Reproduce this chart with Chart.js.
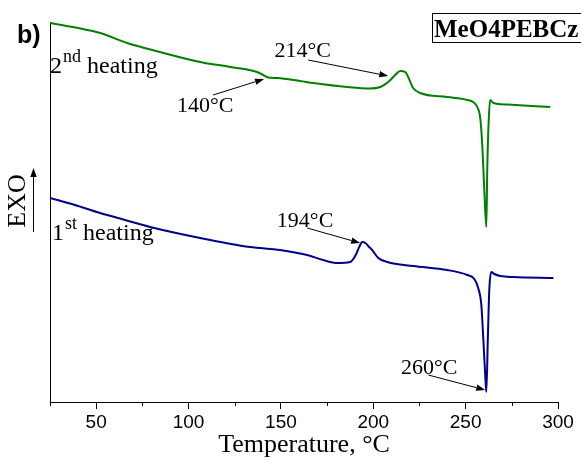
<!DOCTYPE html>
<html><head><meta charset="utf-8">
<script src="https://cdn.jsdelivr.net/npm/chart.js@4/dist/chart.umd.min.js"></script>
<style>html,body{margin:0;padding:0;background:#fff;}#wrap{width:581px;height:461px;}</style>
</head><body><div id="wrap"><canvas id="c" width="581" height="461"></canvas></div>
<script>
// 2nd heating (green): temperature (°C) and heat flow (arb. units, EXO up)
const temp2 = [25.0, 52.1, 66.7, 84.6, 106.3, 122.5, 137.1, 140.4, 143.1, 148.0, 160.4, 167.5, 185.9, 198.3, 203.8, 208.1, 211.9, 214.6, 217.3, 218.9, 221.6, 225.4, 240.0, 250.9, 254.1, 256.3, 257.9, 259.0, 260.1, 261.2, 261.7, 262.5, 263.3, 265.0, 272.6, 295.8];
const heat2 = [37.9, 36.9, 35.9, 35.0, 34.0, 33.5, 33.0, 32.7, 32.45, 32.4, 32.1, 31.9, 31.5, 31.35, 31.5, 32.0, 32.7, 33.1, 33.0, 32.5, 31.4, 30.9, 30.5, 30.2, 30.0, 29.5, 28.4, 25.7, 21.2, 17.5, 23.2, 28.2, 30.2, 29.9, 29.75, 29.5];
// 1st heating (navy)
const temp1 = [25.0, 38.5, 52.1, 65.6, 79.2, 106.3, 133.3, 149.6, 164.2, 172.9, 180.5, 187.5, 190.2, 192.4, 194.0, 195.7, 197.8, 199.4, 202.7, 207.6, 221.6, 240.0, 250.9, 254.7, 256.8, 258.5, 259.6, 260.6, 261.2, 262.0, 262.8, 263.9, 265.5, 268.8, 275.8, 297.5];
const heat1 = [20.4, 19.7, 18.9, 18.2, 17.5, 16.4, 15.5, 15.2, 14.7, 14.2, 13.9, 14.0, 14.6, 15.5, 16.0, 15.9, 15.5, 15.2, 14.4, 14.0, 13.6, 13.2, 12.7, 12.3, 11.4, 9.7, 6.2, 2.7, 1.0, 6.2, 11.2, 13.0, 12.8, 12.6, 12.5, 12.4];
const xMajorTicks = [50, 100, 150, 200, 250, 300];
const xMinorTicks = [25, 75, 125, 175, 225, 275];
const seriesNames = ['2nd heating', '1st heating'];

const SERIF = "'Liberation Serif','Times New Roman',serif";
const SANS = "'Liberation Sans',Arial,sans-serif";

function pts(xs, ys){ return xs.map((x,i)=>({x:x, y:ys[i]})); }

// annotations: text anchors and arrows in data coordinates
const notes = [
  {text:'140°C', at:[109.0, 29.6], tail:[113.3, 30.7], tip:[140.9, 32.3]},
  {text:'214°C', at:[161.8, 35.1], tail:[164.8, 34.2], tip:[208.1, 32.6]},
  {text:'194°C', at:[163.1, 18.1], tail:[164.2, 17.4], tip:[192.9, 15.9]},
  {text:'260°C', at:[230.3, 3.4], tail:[229.8, 2.7], tip:[260.6, 1.2]}
];
const seriesLabels = [
  {main:'2', sup:'nd', rest:' heating', at:[25.0, 32.9]},
  {main:'1', sup:'st', rest:' heating', at:[26.1, 16.2]}
];

function arrow(ctx, x1, y1, x2, y2){
  const ang = Math.atan2(y2-y1, x2-x1);
  const L = 9, W = 3.2;
  const bx = x2 - L*Math.cos(ang), by = y2 - L*Math.sin(ang);
  ctx.beginPath(); ctx.moveTo(x1,y1); ctx.lineTo(bx,by); ctx.stroke();
  ctx.beginPath();
  ctx.moveTo(x2,y2);
  ctx.lineTo(bx + W*Math.sin(ang), by - W*Math.cos(ang));
  ctx.lineTo(bx - W*Math.sin(ang), by + W*Math.cos(ang));
  ctx.closePath(); ctx.fill();
}

const deco = {
  id:'deco',
  afterDraw(chart){
    const ctx = chart.ctx, xs = chart.scales.x, ys = chart.scales.y;
    const bottom = chart.chartArea.bottom;
    ctx.save();
    ctx.strokeStyle = '#000'; ctx.fillStyle = '#000'; ctx.lineWidth = 1;
    // minor ticks
    xMinorTicks.forEach(t=>{
      const x = Math.round(xs.getPixelForValue(t)) + 0.5;
      ctx.beginPath(); ctx.moveTo(x, bottom); ctx.lineTo(x, bottom+4); ctx.stroke();
    });
    // annotations
    ctx.font = '22px ' + SERIF; ctx.textAlign = 'center'; ctx.textBaseline = 'middle';
    notes.forEach(n=>{
      ctx.fillText(n.text, xs.getPixelForValue(n.at[0]), ys.getPixelForValue(n.at[1]));
      arrow(ctx, xs.getPixelForValue(n.tail[0]), ys.getPixelForValue(n.tail[1]),
                 xs.getPixelForValue(n.tip[0]), ys.getPixelForValue(n.tip[1]));
    });
    // series labels with superscripts
    ctx.textAlign = 'left'; ctx.textBaseline = 'alphabetic';
    seriesLabels.forEach(s=>{
      let x = xs.getPixelForValue(s.at[0]); const y = ys.getPixelForValue(s.at[1]);
      ctx.font = '24px ' + SERIF; ctx.fillText(s.main, x, y); x += ctx.measureText(s.main).width;
      ctx.font = '18px ' + SERIF; ctx.fillText(s.sup, x+1, y-11); x += ctx.measureText(s.sup).width + 1;
      ctx.font = '24px ' + SERIF; ctx.fillText(s.rest, x, y);
    });
    // panel letter
    ctx.font = 'bold 25px ' + SANS; ctx.fillText('b)', 17, 43);
    // sample name box
    ctx.font = 'bold 25px ' + SERIF; ctx.fillText('MeO4PEBCz', 434, 37);
    ctx.strokeRect(432.5, 13.5, 160, 29);
    // EXO label with arrow
    ctx.save();
    ctx.translate(25, 201); ctx.rotate(-Math.PI/2);
    ctx.font = '26px ' + SERIF; ctx.textAlign = 'center'; ctx.textBaseline = 'alphabetic';
    ctx.fillText('EXO', 0, 0);
    ctx.restore();
    arrow(ctx, 33.5, 232, 33.5, 168);
    ctx.restore();
  }
};

new Chart(document.getElementById('c'), {
  type:'line',
  data:{ datasets:[
    {label:seriesNames[0], data:pts(temp2, heat2), borderColor:'#008000', borderWidth:2, pointRadius:0, cubicInterpolationMode:'monotone', fill:false},
    {label:seriesNames[1], data:pts(temp1, heat1), borderColor:'#00008b', borderWidth:2, pointRadius:0, cubicInterpolationMode:'monotone', fill:false}
  ]},
  options:{
    responsive:false, animation:false, devicePixelRatio:1,
    layout:{padding:{top:22, right:23, left:0, bottom:0}},
    plugins:{legend:{display:false}, tooltip:{enabled:false}},
    scales:{
      x:{type:'linear', min:25, max:300,
        afterBuildTicks(s){ s.ticks = xMajorTicks.map(v=>({value:v})); },
        afterFit(s){ s.height = 59; },
        grid:{display:true, drawOnChartArea:false, drawTicks:true, tickLength:7, color:'#000', lineWidth:1},
        border:{display:true, color:'#000', width:1},
        ticks:{font:{family:SANS, size:19}, color:'#000', padding:2, maxRotation:0, autoSkip:false},
        title:{display:true, text:'Temperature, °C', font:{family:SERIF, size:26}, color:'#000', padding:{top:0, bottom:0}}
      },
      y:{min:0, max:38,
        afterFit(s){ s.width = 50; },
        grid:{display:false},
        border:{display:true, color:'#000', width:1},
        ticks:{display:false}
      }
    }
  },
  plugins:[deco]
});
</script></body></html>
